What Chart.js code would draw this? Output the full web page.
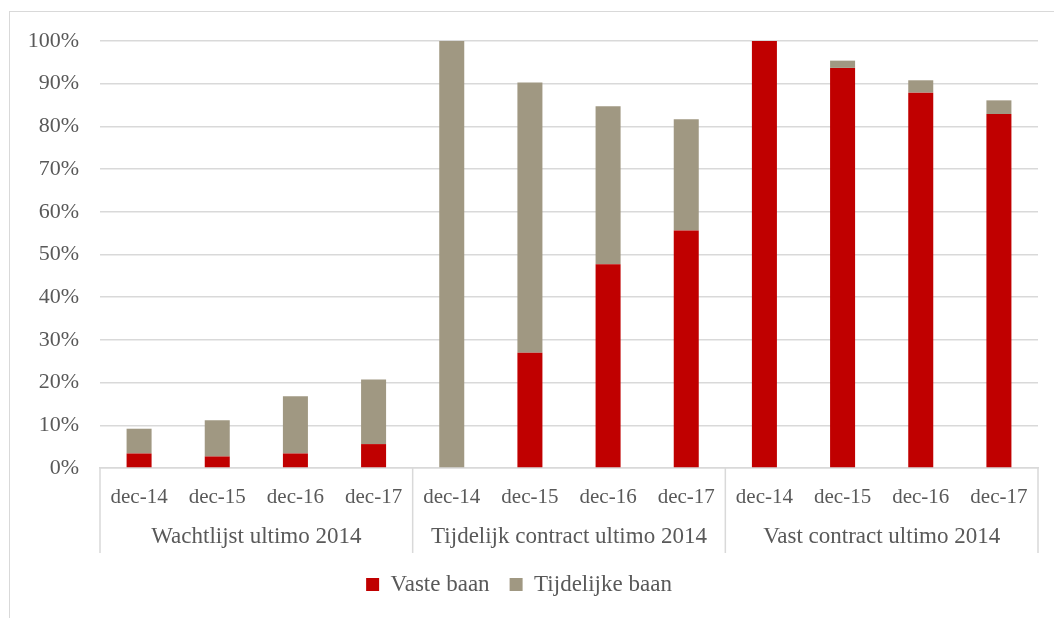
<!DOCTYPE html>
<html>
<head>
<meta charset="utf-8">
<script src="https://cdn.jsdelivr.net/npm/chart.js@4/dist/chart.umd.min.js"></script>
<style>
  body { margin: 0; background: #fff; }
  #wrap { position: relative; width: 1054px; height: 618px; }
  #frame { position: absolute; left: 9px; top: 11px; width: 1100px; height: 700px;
           border-left: 1px solid #d9d9d9; border-top: 1px solid #d9d9d9; }
  canvas { position: absolute; left: 0; top: 0; }
</style>
</head>
<body>
<div id="wrap">
  <div id="frame"></div>
  <canvas id="Chart" width="1054" height="618"></canvas>
</div>
<script>
var groups = ['Wachtlijst ultimo 2014', 'Tijdelijk contract ultimo 2014', 'Vast contract ultimo 2014'];
var periods = ['dec-14', 'dec-15', 'dec-16', 'dec-17'];
var vasteBaan = [3.4, 2.7, 3.4, 5.6, 0, 27.0, 47.7, 55.6, 100, 93.7, 87.9, 82.9];
var tijdelijkeBaan = [5.8, 8.5, 13.4, 15.1, 100, 63.3, 37.0, 26.1, 0, 1.7, 2.9, 3.2];

var labels = [];
groups.forEach(function(g) {
    periods.forEach(function(p) { labels.push(p); });
});

var fontFam = '"Liberation Serif", "Times New Roman", serif';
var textCol = '#595959';
var lineCol = '#d9d9d9';

// draws the group separators and group names under the dec-xx ticks
var groupAxis = {
    id: 'groupAxis',
    afterDraw: function(chart) {
        var ctx = chart.ctx;
        var x = chart.scales.x;
        var area = chart.chartArea;
        var per = periods.length;
        var bottom = area.bottom + 85;
        ctx.save();
        ctx.strokeStyle = lineCol;
        ctx.lineWidth = 1.5;
        for (var i = 0; i <= groups.length; i++) {
            var px;
            if (i === 0) px = area.left;
            else if (i === groups.length) px = area.right;
            else px = (x.getPixelForTick(i * per - 1) + x.getPixelForTick(i * per)) / 2;
            ctx.beginPath();
            ctx.moveTo(px, area.bottom);
            ctx.lineTo(px, bottom);
            ctx.stroke();
        }
        ctx.fillStyle = textCol;
        ctx.font = '23px ' + fontFam;
        ctx.textAlign = 'center';
        ctx.textBaseline = 'middle';
        groups.forEach(function(g, i) {
            var cx = (x.getPixelForTick(i * per) + x.getPixelForTick(i * per + per - 1)) / 2;
            ctx.fillText(g, cx, area.bottom + 69);
        });
        ctx.restore();
    }
};

var ctx = document.getElementById('Chart');
var newChart = new Chart(ctx, {
    type: 'bar',
    data: {
        labels: labels,
        datasets: [
            {
                label: 'Vaste baan',
                data: vasteBaan,
                backgroundColor: '#C00000',
                barPercentage: 0.32,
                categoryPercentage: 1
            },
            {
                label: 'Tijdelijke baan',
                data: tijdelijkeBaan,
                backgroundColor: '#A09882',
                barPercentage: 0.32,
                categoryPercentage: 1
            }
        ]
    },
    options: {
        responsive: false,
        animation: false,
        layout: { padding: { top: 41, right: 16, left: 0, bottom: 12 } },
        plugins: {
            tooltip: { enabled: false },
            legend: {
                position: 'bottom',
                labels: {
                    boxWidth: 13,
                    boxHeight: 13,
                    color: textCol,
                    font: { family: fontFam, size: 23 },
                    padding: 20
                }
            }
        },
        scales: {
            x: {
                stacked: true,
                grid: { display: false },
                border: { color: lineCol, width: 1.5 },
                ticks: {
                    color: textCol,
                    font: { family: fontFam, size: 21 },
                    padding: 9,
                    maxRotation: 0,
                    autoSkip: false
                },
                afterFit: function(s) { s.height = 85; }
            },
            y: {
                stacked: true,
                min: 0,
                max: 100,
                border: { display: false },
                grid: { color: lineCol, lineWidth: 1.5, drawTicks: false },
                ticks: {
                    stepSize: 10,
                    color: textCol,
                    font: { family: fontFam, size: 22 },
                    padding: 21,
                    callback: function(v) { return v + '%'; }
                },
                afterFit: function(s) { s.width = 100; }
            }
        }
    },
    plugins: [groupAxis]
});
</script>
</body>
</html>
